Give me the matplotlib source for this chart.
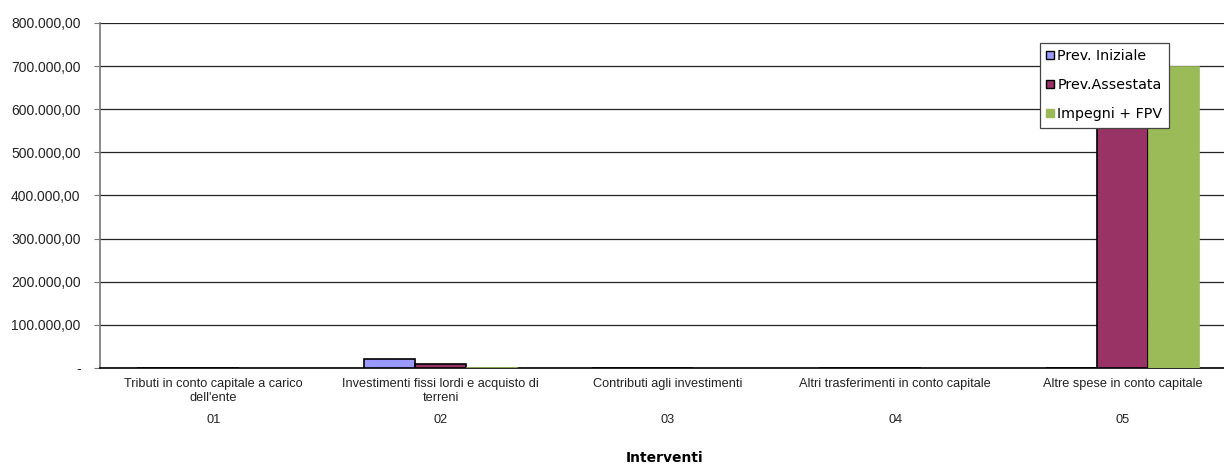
import matplotlib.pyplot as plt
import numpy as np
from matplotlib.ticker import FuncFormatter
from matplotlib.lines import Line2D
from matplotlib.transforms import blended_transform_factory

categories = ["Tributi in conto capitale a carico\ndell'ente",
              "Investimenti fissi lordi e acquisto di\nterreni",
              "Contributi agli investimenti",
              "Altri trasferimenti in conto capitale",
              "Altre spese in conto capitale"]
codes = ["01", "02", "03", "04", "05"]
prev_iniziale = [0, 20000, 0, 0, 0]
prev_assestata = [0, 9000, 0, 0, 700000]
impegni_fpv = [0, 1500, 0, 0, 700000]

col_blue = "#9999FF"
col_purple = "#993366"
col_green = "#9BBB59"

fig = plt.figure(figsize=(12.24, 4.68), dpi=100)
ax = fig.add_axes([100 / 1224, 1 - 368 / 468, 1136 / 1224, 345 / 468])

x = np.arange(len(categories))
w = 0.224
ax.bar(x - w, prev_iniziale, w, color=col_blue, edgecolor="black", linewidth=1.2, zorder=3)
ax.bar(x, prev_assestata, w, color=col_purple, edgecolor="black", linewidth=1.2, zorder=3)
ax.bar(x + w, impegni_fpv, w, color=col_green, edgecolor=col_green, linewidth=0.5, zorder=3)

ax.set_xlim(-0.5, len(categories) - 0.5)
ax.set_ylim(0, 800000)
ax.set_yticks(np.arange(0, 800001, 100000))


def fmt(v, pos):
    if v == 0:
        return "-"
    return f"{v:,.2f}".replace(",", "X").replace(".", ",").replace("X", ".")


ax.yaxis.set_major_formatter(FuncFormatter(fmt))
ax.grid(axis="y", color="#222222", linewidth=0.9, zorder=0)
ax.set_axisbelow(True)

ax.set_xticks(x)
ax.set_xticklabels(categories, fontsize=9.2, family="Liberation Sans", color="#222222",
                   linespacing=1.25)
ax.tick_params(axis="x", length=0, pad=7)
ax.tick_params(axis="y", length=4, color="#777777", labelsize=10, pad=10)
for lab in ax.get_yticklabels():
    lab.set_family("Liberation Sans")
    lab.set_color("#222222")

for s in ["top", "right"]:
    ax.spines[s].set_visible(False)
ax.spines["left"].set_color("#777777")
ax.spines["left"].set_linewidth(1.2)
ax.spines["bottom"].set_color("black")
ax.spines["bottom"].set_linewidth(1.2)

trans = blended_transform_factory(ax.transData, fig.transFigure)
for i, c in enumerate(codes):
    ax.text(i, 1 - 420 / 468, c, transform=trans, ha="center", va="center",
            fontsize=9.2, family="Liberation Sans", color="#222222")

fig.text(665 / 1224, 1 - 458 / 468, "Interventi", ha="center", va="center",
         fontsize=10, fontweight="bold", family="DejaVu Sans")

handles = [
    Line2D([], [], marker="s", linestyle="", markersize=5.5, markerfacecolor=col_blue, markeredgecolor="black"),
    Line2D([], [], marker="s", linestyle="", markersize=5.5, markerfacecolor=col_purple, markeredgecolor="black"),
    Line2D([], [], marker="s", linestyle="", markersize=5.5, markerfacecolor=col_green, markeredgecolor=col_green),
]
leg = ax.legend(handles, ["Prev. Iniziale", "Prev.Assestata", "Impegni + FPV"],
                loc="upper left", bbox_to_anchor=(1040 / 1224, 1 - 43 / 468),
                bbox_transform=fig.transFigure, frameon=True, fancybox=False,
                framealpha=1, handlelength=0.5, handletextpad=0.25, labelspacing=1.05,
                borderpad=0.45, borderaxespad=0, prop={"family": "DejaVu Sans", "size": 10.3})
leg.get_frame().set_edgecolor("#444444")
leg.get_frame().set_linewidth(0.9)
leg.set_zorder(5)

fig.savefig("out.png", dpi=100)
